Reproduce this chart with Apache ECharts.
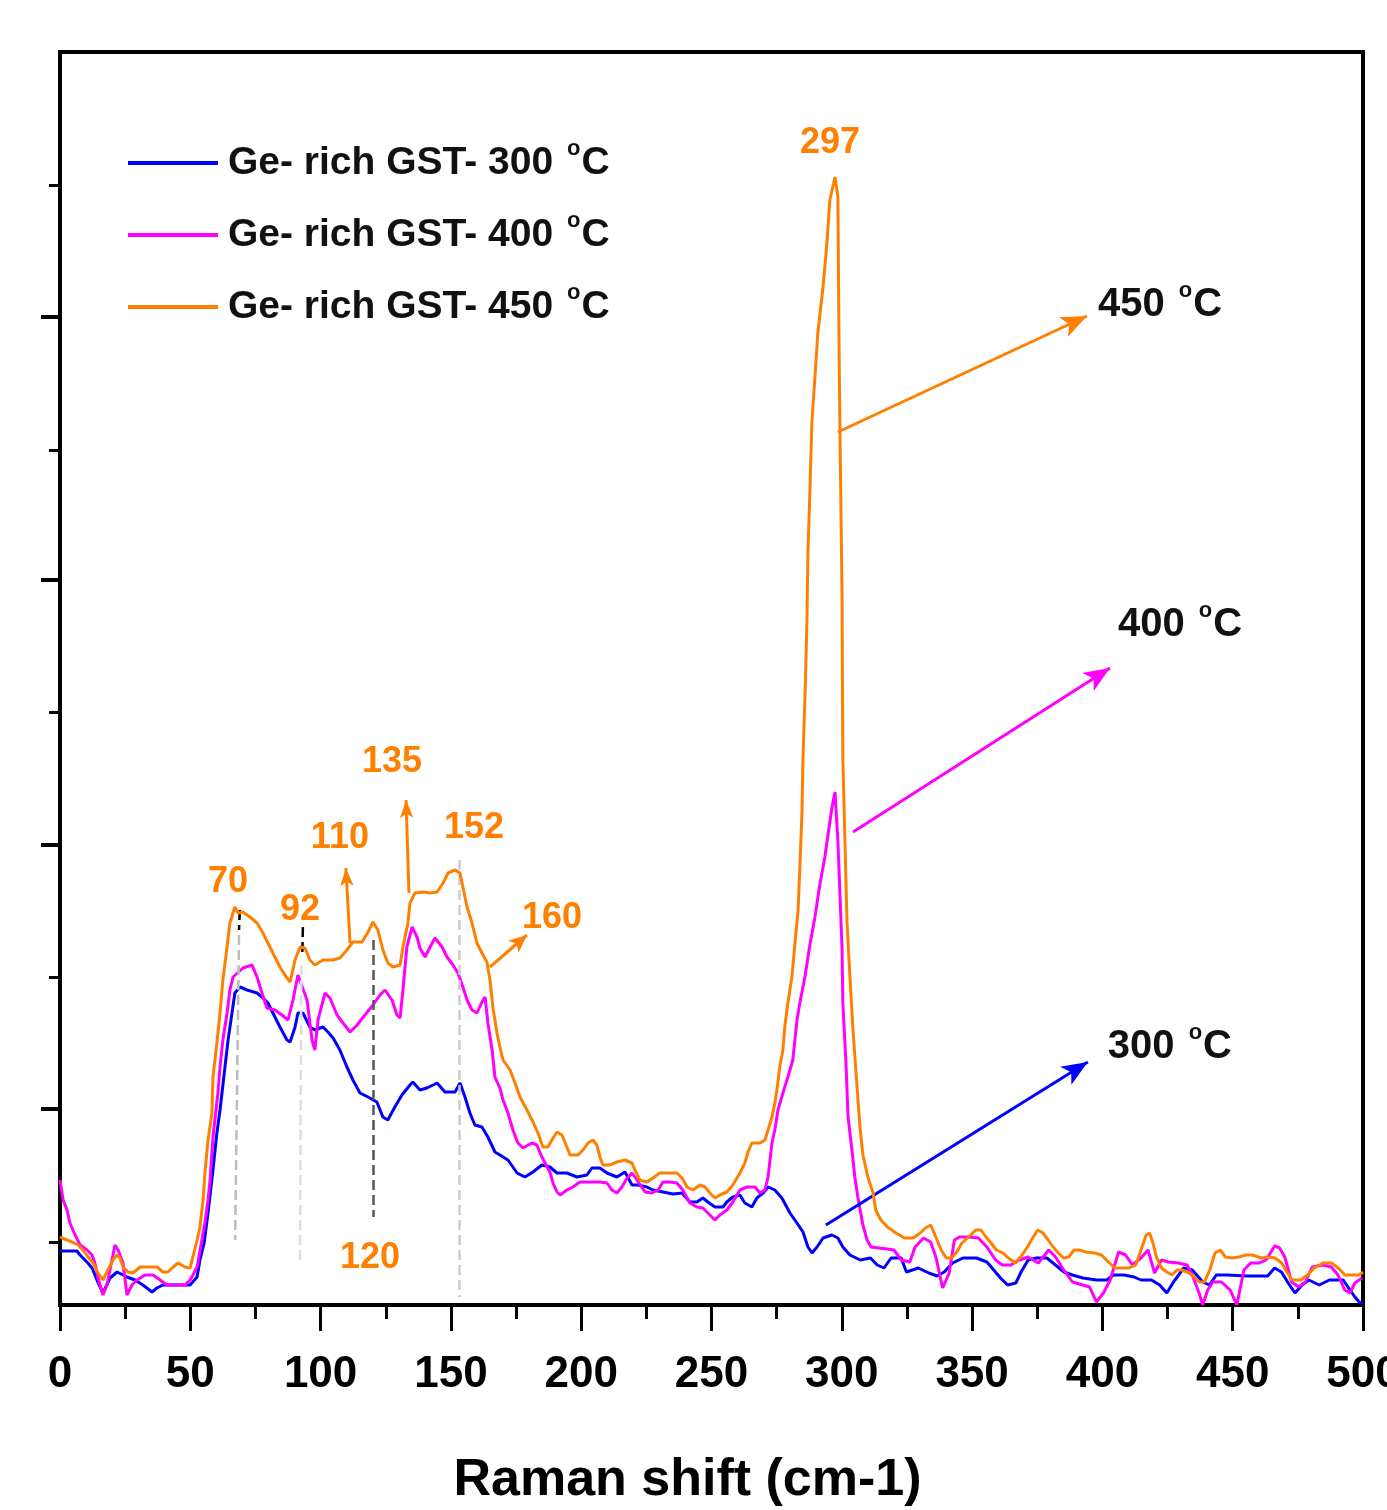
<!DOCTYPE html>
<html>
<head>
<meta charset="utf-8">
<script src="https://cdn.jsdelivr.net/npm/echarts@6/dist/echarts.min.js"></script>
<style>
html,body{margin:0;padding:0;background:#fff;}
#c{width:1387px;height:1510px;}
</style>
</head>
<body>
<div id="c"></div>
<script>
// ---- data (Raman shift cm-1, intensity a.u.) ----
const seriesNames = ['Ge- rich GST- 300 °C', 'Ge- rich GST- 400 °C', 'Ge- rich GST- 450 °C'];
const xTicks = [0, 50, 100, 150, 200, 250, 300, 350, 400, 450, 500];

const raman300 = [[0,54],[6.5,54],[7.7,50],[10.7,42],[12.3,37],[14.2,25],[16.5,12],[19.2,27],[21.9,33],[25.7,28],[28.8,25],[31.8,20],[35.3,13],[37.2,17],[39.5,20],[44.9,20],[49.9,20],[52.6,28],[53.7,45],[55.3,62],[56.8,92],[58.7,135],[60.2,172],[61.4,195],[63.3,238],[64.5,265],[66.0,292],[67.1,312],[69.1,318],[71.8,315],[75.6,312],[77.5,308],[79.8,302],[81.7,292],[84.4,278],[87.1,265],[88.3,263],[90.2,278],[91.3,292],[93.2,292],[95.9,278],[97.8,275],[100.9,278],[102.8,273],[104.8,267],[107.4,255],[110.1,238],[112.4,225],[115.1,212],[118.2,208],[121.6,203],[123.9,188],[125.8,185],[128.5,198],[131.2,210],[134.3,220],[135.4,223],[138.1,215],[140.8,217],[144.7,222],[147.7,213],[151.6,213],[153.5,222],[155.4,208],[157.3,192],[159.2,180],[161.9,178],[164.2,168],[166.9,153],[168.8,150],[171.9,145],[175.4,132],[178.4,128],[181.5,133],[184.9,140],[188.0,138],[190.7,132],[194.5,132],[198.4,128],[202.2,130],[204.1,137],[207.2,137],[209.9,132],[213.7,128],[216.8,133],[219.5,120],[221.8,120],[225.2,118],[227.5,115],[231.4,113],[235.2,111],[238.7,112],[241.7,103],[244.4,103],[246.7,107],[248.6,103],[251.3,98],[254.4,98],[255.9,103],[258.2,108],[260.9,110],[262.8,102],[265.5,98],[267.4,107],[269.8,112],[271.7,118],[274.3,115],[277.0,107],[280.1,92],[282.8,82],[285.1,73],[287.0,58],[288.6,52],[290.5,58],[292.8,67],[296.2,70],[298.5,67],[300.4,58],[303.1,50],[307.1,45],[311.0,47],[313.6,40],[316.2,37],[318.9,47],[322.8,47],[324.8,33],[329.4,37],[333.4,32],[336.6,29],[339.3,33],[342.5,42],[346.5,47],[351.7,47],[355.7,43],[358.3,35],[360.9,27],[363.6,20],[366.8,22],[368.8,33],[371.5,45],[374.7,47],[378.7,47],[382.0,40],[385.2,33],[388.5,30],[392.5,27],[397.7,25],[401.7,25],[404.3,30],[408.3,30],[412.2,28],[414.8,25],[418.8,25],[422.0,20],[424.7,12],[427.3,23],[431.2,37],[434.5,35],[438.5,23],[441.1,20],[443.7,30],[447.7,30],[455.6,29],[463.4,29],[466.1,37],[468.7,33],[471.3,22],[473.9,12],[476.6,20],[479.2,25],[483.2,20],[487.1,25],[492.4,25],[495.0,15],[496.9,8],[498.9,2],[500,2]];

const raman400 = [[0,125],[1.2,105],[2.7,95],[3.8,82],[5.8,70],[7.7,60],[10.4,55],[12.3,50],[13.4,42],[14.6,27],[16.5,10],[18.0,20],[21.1,60],[22.3,55],[24.2,42],[25.7,10],[27.6,20],[29.5,25],[32.6,30],[35.7,30],[38.4,25],[41.1,20],[43.4,20],[48.0,20],[49.9,25],[51.0,30],[52.6,38],[54.1,60],[55.6,82],[56.8,105],[57.6,125],[58.7,168],[60.6,212],[61.4,238],[62.5,265],[64.1,292],[65.2,315],[66.4,328],[70.2,337],[73.7,340],[75.6,328],[77.5,312],[79.4,297],[82.5,295],[85.2,290],[87.5,285],[89.4,305],[91.3,330],[94.8,305],[96.7,265],[97.8,255],[99.0,285],[101.7,312],[103.6,307],[106.3,290],[108.6,282],[111.3,273],[114.0,280],[117.0,290],[120.1,300],[122.8,310],[124.7,315],[127.4,305],[129.3,290],[130.5,287],[131.6,315],[133.1,358],[135.1,378],[137.0,368],[138.1,357],[140.1,348],[142.0,358],[143.9,367],[146.6,358],[148.5,348],[150.8,340],[152.7,332],[154.6,318],[156.2,305],[158.1,295],[160.0,292],[161.9,303],[163.1,308],[164.2,282],[165.8,255],[166.9,228],[168.8,217],[170.0,205],[171.9,192],[173.8,175],[175.7,162],[177.7,157],[181.1,162],[183.0,160],[184.9,148],[188.0,133],[189.2,122],[190.7,113],[191.9,110],[194.5,115],[196.8,118],[199.5,123],[203.4,123],[207.2,123],[209.9,122],[211.8,115],[213.7,112],[215.6,118],[217.6,127],[219.5,132],[221.4,125],[224.5,113],[227.1,112],[229.5,115],[231.4,123],[234.1,123],[236.7,122],[239.0,115],[241.7,102],[244.4,98],[246.7,97],[249.4,90],[251.3,85],[253.2,90],[255.9,95],[258.2,103],[260.9,115],[263.6,118],[266.7,118],[268.6,112],[270.5,115],[271.7,128],[273.2,162],[274.3,175],[275.5,195],[277.4,212],[279.3,228],[281.2,245],[282.8,285],[283.9,302],[285.9,329],[287.8,361],[289.7,388],[291.6,421],[293.5,448],[294.7,470],[296.2,497],[297.4,513],[298.5,464],[299.3,410],[300.1,356],[300.4,302],[301.6,242],[302.4,188],[303.9,155],[305.0,128],[306.2,107],[308.1,80],[309.7,65],[311.2,58],[314.3,57],[317.5,56],[320.0,55],[322.8,45],[326.1,43],[328.1,58],[331.4,67],[334.1,63],[336.1,48],[338.7,17],[341.2,32],[343.2,65],[345.2,68],[348.5,68],[352.4,67],[355.7,58],[359.0,45],[361.6,40],[364.9,40],[368.2,45],[371.5,48],[375.4,42],[379.4,55],[382.0,48],[385.2,35],[388.5,23],[392.5,20],[395.1,18],[397.7,3],[400.4,12],[403.0,25],[406.2,53],[408.9,50],[411.5,40],[414.8,47],[417.5,55],[420.0,32],[422.7,45],[425.3,43],[429.2,42],[432.5,40],[434.5,30],[437.1,12],[438.5,0],[440.4,15],[442.4,23],[445.7,23],[449.0,15],[451.6,0],[454.3,35],[456.9,42],[460.2,42],[462.8,45],[466.1,59],[468.0,57],[470.0,48],[472.6,23],[475.3,18],[477.9,23],[480.5,38],[484.5,40],[487.8,38],[490.4,30],[493.0,15],[495.0,12],[496.9,22],[499.6,27]];

const raman450 = [[0,68],[0.8,67],[4.6,63],[6.9,60],[8.8,55],[10.7,48],[12.7,42],[14.6,32],[16.5,25],[18.0,33],[20.3,45],[21.9,50],[23.0,47],[24.2,38],[26.1,33],[28.0,32],[30.7,38],[34.5,38],[37.2,38],[39.5,33],[41.4,33],[43.4,38],[45.3,42],[48.0,38],[49.9,37],[51.0,48],[52.6,65],[53.7,78],[54.9,105],[55.6,132],[56.8,165],[58.3,192],[58.7,228],[60.2,262],[61.4,292],[62.5,325],[64.1,358],[65.2,382],[67.1,398],[68.3,392],[70.2,393],[72.9,388],[75.6,382],[77.9,372],[79.8,362],[81.7,352],[84.4,338],[86.3,330],[88.3,323],[90.2,345],[92.1,358],[94.0,357],[95.9,345],[97.8,340],[100.9,345],[104.8,345],[107.4,347],[110.1,355],[112.4,363],[115.9,363],[118.2,373],[120.1,383],[122.0,375],[123.9,355],[125.8,342],[127.8,338],[130.5,340],[131.6,358],[133.5,382],[134.3,402],[136.2,412],[139.3,413],[142.0,412],[144.7,413],[147.0,422],[148.9,432],[151.6,435],[153.5,432],[154.6,418],[156.2,398],[158.1,382],[160.0,362],[161.9,352],[163.8,343],[165.0,325],[166.1,298],[167.7,272],[168.8,258],[170.0,245],[172.7,235],[174.6,222],[176.5,208],[179.2,195],[181.5,183],[183.4,172],[185.3,158],[187.2,158],[189.2,167],[190.7,173],[192.6,170],[194.5,158],[195.7,150],[198.8,150],[200.7,155],[202.6,162],[204.5,165],[206.0,160],[207.2,148],[208.3,140],[211.0,140],[213.7,143],[216.8,145],[219.5,142],[220.6,135],[222.5,125],[225.2,123],[227.5,127],[230.2,132],[236.7,132],[238.7,127],[240.6,118],[242.9,115],[245.6,120],[247.5,118],[249.4,112],[251.3,107],[253.2,110],[255.9,113],[258.2,120],[260.9,132],[262.8,142],[264.0,153],[265.5,162],[268.6,162],[270.5,165],[271.7,175],[273.2,188],[274.3,202],[275.1,215],[276.3,240],[277.4,255],[278.2,280],[279.3,302],[280.9,329],[282.0,361],[283.2,394],[283.9,437],[284.7,491],[285.1,546],[285.9,611],[286.6,681],[287.0,752],[287.8,817],[288.5,882],[289.7,928],[290.8,972],[292.8,1018],[294.3,1062],[295.4,1105],[297.4,1128],[298.5,1108],[298.9,972],[299.3,872],[300.1,708],[300.4,546],[302.0,383],[303.1,329],[304.3,275],[305.8,220],[307.0,177],[308.1,150],[310.0,128],[312.0,112],[313.0,95],[315.0,85],[317.5,78],[320.8,72],[324.1,67],[327.4,67],[330.1,72],[332.1,77],[334.1,80],[336.1,68],[338.1,55],[340.1,47],[342.1,47],[344.1,53],[346.1,62],[348.7,68],[351.4,75],[353.4,75],[355.3,68],[357.3,62],[359.3,55],[361.9,52],[363.9,47],[366.6,42],[369.2,50],[371.2,58],[373.2,67],[375.2,75],[377.2,72],[379.2,65],[381.1,58],[383.1,52],[385.1,47],[387.1,48],[389.1,55],[391.1,55],[393.7,53],[397.0,52],[399.7,50],[402.3,43],[404.9,37],[407.6,37],[410.2,37],[412.8,40],[414.8,55],[416.8,70],[418.1,72],[419.4,62],[420.7,48],[422.7,37],[424.7,33],[426.7,30],[428.6,35],[430.6,35],[433.3,32],[435.2,28],[437.2,23],[439.2,23],[441.2,35],[443.2,52],[445.2,55],[447.2,48],[449.8,47],[452.4,48],[455.0,50],[457.6,50],[460.9,47],[463.6,48],[466.2,47],[468.8,42],[470.8,33],[472.8,25],[476.1,25],[478.7,30],[481.3,37],[484.6,42],[487.9,42],[490.5,37],[493.1,30],[495.7,30],[498.4,30],[500,33]];

// peak annotations (label, anchor [shift, intensity])
const peakLabels = [['70',[64.5,423]],['92',[92.1,395]],['110',[107.4,467]],['120',[119,47]],['135',[127.4,543]],['152',[158.9,477]],['160',[188.8,387]],['297',[295.5,1162]]];
const tempLabels = [['450',[422.1,1000]],['400',[429.8,680]],['300',[425.9,258]]];
// y-axis tick positions (no labels in the original)
const yMajorTicks = [196, 460, 725, 988];
const yMinorTicks = [63, 328, 593, 855, 1120];

const FONT = '"Liberation Sans",Arial,sans-serif';
const BLUE = '#0000ff', MAG = '#ff00ff', ORA = '#ff8000';
const SUP = {fontFamily: FONT, fontSize: 22, lineHeight: 22, fontWeight: 'bold', color: '#111', verticalAlign: 'top', padding: [0, 1, 0, 3]};

function seg(a, b, style) { return [{coord: a, lineStyle: style}, {coord: b}]; }
const dashed = (c) => ({type: 'dashed', color: c, width: 2.5});

const chart = echarts.init(document.getElementById('c'), null, {renderer: 'canvas'});
chart.setOption({
  animation: false,
  backgroundColor: '#fff',
  grid: {left: 60, right: 24, top: 52, bottom: 205, containLabel: false, outerBoundsMode: 'none',
    show: true, borderColor: '#000', borderWidth: 4, backgroundColor: 'transparent'},
  legend: {
    orient: 'vertical', left: 128, top: 138, itemGap: 22, padding: 0,
    icon: 'rect', itemWidth: 90, itemHeight: 4,
    data: seriesNames,
    formatter: (n) => n.replace(' °C', ' {sup|o}C'),
    textStyle: {fontFamily: FONT, fontSize: 39, lineHeight: 50, fontWeight: 'bold', color: '#111', padding: [0,0,0,5],
      rich: {sup: SUP}}
  },
  xAxis: {
    type: 'value', min: 0, max: 500, interval: 50,
    axisLine: {show: true, lineStyle: {color: '#000', width: 4}},
    axisTick: {show: true, inside: false, length: 26, lineStyle: {color: '#000', width: 3}},
    minorTick: {show: true, splitNumber: 2, length: 14, lineStyle: {color: '#000', width: 3}},
    axisLabel: {fontFamily: FONT, fontSize: 44, fontWeight: 'bold', color: '#000', margin: 48},
    splitLine: {show: false},
    name: 'Raman shift (cm-1)', nameLocation: 'middle', nameGap: 150,
    nameTextStyle: {fontFamily: FONT, fontSize: 52, fontWeight: 'bold', color: '#000', padding: [0, 48, 0, 0]}
  },
  yAxis: [
    {type: 'value', min: 0, max: 1253, position: 'left',
      axisLine: {show: true, lineStyle: {color: '#000', width: 4}},
      axisTick: {show: true, inside: false, length: 19, customValues: yMajorTicks, lineStyle: {color: '#000', width: 4}},
      axisLabel: {show: false}, splitLine: {show: false}},
    {type: 'value', min: 0, max: 1253, position: 'left',
      axisLine: {show: false},
      axisTick: {show: true, inside: false, length: 11, customValues: yMinorTicks, lineStyle: {color: '#000', width: 3}},
      axisLabel: {show: false}, splitLine: {show: false}}
  ],
  series: [
    {name: seriesNames[0], type: 'line', data: raman300, showSymbol: false, symbol: 'none',
      lineStyle: {color: BLUE, width: 3}, itemStyle: {color: BLUE}, z: 3,
      markLine: {silent: true, symbol: ['none', 'arrow'], symbolSize: [16, 26], label: {show: false},
        lineStyle: {color: BLUE, width: 3, type: 'solid'},
        data: [seg([293.9, 80], [394.4, 243])]},
      markPoint: {silent: true, symbol: 'circle', symbolSize: 0,
        label: {show: true, position: 'inside', fontFamily: FONT, fontSize: 40, lineHeight: 50, fontWeight: 'bold', color: '#111', rich: {sup: SUP}},
        data: [{coord: tempLabels[2][1], label: {formatter: tempLabels[2][0] + ' {sup|o}C'}}]}
    },
    {name: seriesNames[1], type: 'line', data: raman400, showSymbol: false, symbol: 'none',
      lineStyle: {color: MAG, width: 3}, itemStyle: {color: MAG}, z: 4,
      markLine: {silent: true, symbol: ['none', 'arrow'], symbolSize: [16, 26], label: {show: false},
        lineStyle: {color: MAG, width: 3, type: 'solid'},
        data: [seg([304.3, 473], [402.9, 637])]},
      markPoint: {silent: true, symbol: 'circle', symbolSize: 0,
        label: {show: true, position: 'inside', fontFamily: FONT, fontSize: 40, lineHeight: 50, fontWeight: 'bold', color: '#111', rich: {sup: SUP}},
        data: [{coord: tempLabels[1][1], label: {formatter: tempLabels[1][0] + ' {sup|o}C'}}]}
    },
    {name: seriesNames[2], type: 'line', data: raman450, showSymbol: false, symbol: 'none',
      lineStyle: {color: ORA, width: 3}, itemStyle: {color: ORA}, z: 5,
      markLine: {silent: true, symbol: ['none', 'arrow'], symbolSize: [16, 26], label: {show: false},
        lineStyle: {color: ORA, width: 3, type: 'solid'},
        data: [
          seg([298.5, 873], [394.1, 989]),
          [{coord: [165.0, 338], symbolSize: [12, 18]}, {coord: [179.2, 370], symbolSize: [12, 18]}],
          [{coord: [111.3, 362], symbolSize: [10, 18]}, {coord: [109.7, 437], symbolSize: [10, 18]}],
          [{coord: [133.9, 412], symbolSize: [10, 18]}, {coord: [132.8, 505], symbolSize: [10, 18]}],
          [{coord: [69.0, 395], symbol: 'none', lineStyle: dashed('#000')}, {coord: [68.7, 375], symbol: 'none'}],
          [{coord: [68.7, 370], symbol: 'none', lineStyle: dashed('#bbb')}, {coord: [67.2, 65], symbol: 'none'}],
          [{coord: [93.2, 378], symbol: 'none', lineStyle: dashed('#000')}, {coord: [93.0, 352], symbol: 'none'}],
          [{coord: [92.6, 340], symbol: 'none', lineStyle: dashed('#ddd')}, {coord: [92.1, 45], symbol: 'none'}],
          [{coord: [120.1, 365], symbol: 'none', lineStyle: dashed('#555')}, {coord: [120.1, 88], symbol: 'none'}],
          [{coord: [153.1, 445], symbol: 'none', lineStyle: dashed('#ccc')}, {coord: [153.1, 8], symbol: 'none'}]
        ]},
      markPoint: {silent: true, symbol: 'circle', symbolSize: 0,
        label: {show: true, position: 'inside', fontFamily: FONT, fontSize: 36, lineHeight: 50, fontWeight: 'bold', color: ORA, rich: {sup: SUP}},
        data: peakLabels.map(p => ({coord: p[1], label: {formatter: p[0]}})).concat([
          {coord: tempLabels[0][1], label: {formatter: tempLabels[0][0] + ' {sup|o}C', color: '#111', fontSize: 40}}
        ])}
    }
  ]
});
</script>
</body>
</html>
